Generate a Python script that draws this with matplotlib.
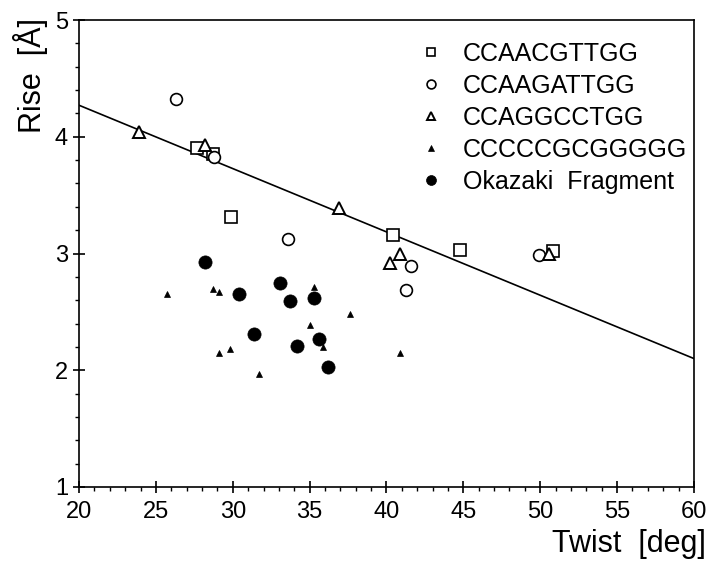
import matplotlib
matplotlib.use("Agg")
import matplotlib.pyplot as plt
from matplotlib.ticker import MultipleLocator

plt.rcParams["font.family"] = ["Liberation Sans", "DejaVu Sans"]

# CCAACGTTGG (open squares)
sq_twist = [27.7, 28.7, 29.9, 40.4, 44.8, 50.8]
sq_rise = [3.90, 3.85, 3.31, 3.16, 3.03, 3.02]

# CCAAGATTGG (open circles)
ci_twist = [26.3, 28.8, 33.6, 41.6, 41.3, 49.9]
ci_rise = [4.32, 3.83, 3.12, 2.89, 2.69, 2.99]

# CCAGGCCTGG (open triangles)
tr_twist = [23.9, 28.2, 36.9, 40.2, 40.9, 50.6]
tr_rise = [4.04, 3.93, 3.39, 2.92, 3.00, 3.00]

# CCCCCGCGGGGG (small filled triangles)
st_twist = [25.7, 28.7, 29.1, 35.3, 37.6, 35.0, 35.9, 29.1, 29.8, 31.7, 40.9]
st_rise = [2.65, 2.70, 2.67, 2.71, 2.48, 2.39, 2.20, 2.15, 2.18, 1.97, 2.15]

# Okazaki Fragment (filled circles)
ok_twist = [28.2, 33.1, 30.4, 33.7, 35.3, 31.4, 34.2, 35.6, 36.2]
ok_rise = [2.93, 2.75, 2.65, 2.59, 2.62, 2.31, 2.21, 2.27, 2.03]

# regression line
fit_twist = [20, 60]
fit_rise = [4.27, 2.10]

fig = plt.figure(figsize=(7.08, 5.67), dpi=100)
ax = fig.add_axes([0.1116, 0.1411, 0.8686, 0.8236])

ax.plot(fit_twist, fit_rise, color="black", lw=1.2, zorder=1)

ax.plot(sq_twist, sq_rise, ls="none", marker="s", ms=8, mfc="white",
        mec="black", mew=1.2, label="CCAACGTTGG", zorder=3)
ax.plot(ci_twist, ci_rise, ls="none", marker="o", ms=8.5, mfc="white",
        mec="black", mew=1.2, label="CCAAGATTGG", zorder=3)
ax.plot(tr_twist, tr_rise, ls="none", marker="^", ms=8.5, mfc="white",
        mec="black", mew=1.4, label="CCAGGCCTGG", zorder=3)
ax.plot(st_twist, st_rise, ls="none", marker="^", ms=5, mfc="black",
        mec="black", mew=0.5, label="CCCCCGCGGGGG", zorder=3)
ax.plot(ok_twist, ok_rise, ls="none", marker="o", ms=9.5, mfc="black",
        mec="black", mew=0.5, label="Okazaki  Fragment", zorder=3)

ax.set_xlim(20, 60)
ax.set_ylim(1, 5)
ax.xaxis.set_major_locator(MultipleLocator(5))
ax.xaxis.set_minor_locator(MultipleLocator(1))
ax.yaxis.set_major_locator(MultipleLocator(1))
ax.yaxis.set_minor_locator(MultipleLocator(0.2))
ax.tick_params(which="major", direction="inout", length=8, width=1.2,
               labelsize=17)
ax.tick_params(axis="x", which="major", pad=6)
ax.tick_params(axis="y", which="major", pad=4)
ax.tick_params(which="minor", direction="out", length=3, width=1.0)
for s in ax.spines.values():
    s.set_linewidth(1.2)

ax.set_xlabel("Twist  [deg]", fontsize=22, ha="right")
ax.xaxis.set_label_coords(1.02, -0.09)
fig.text(30 / 708, 1 - 18 / 567, "Rise  [Å]", rotation=90, fontsize=22,
         ha="center", va="top")

leg = ax.legend(loc="upper left", bbox_to_anchor=(0.535, 0.975), frameon=False,
                fontsize=18, markerscale=0.75, handlelength=1.0,
                handletextpad=0.8, labelspacing=0.32, borderaxespad=0)

fig.savefig("out.png", dpi=100)
